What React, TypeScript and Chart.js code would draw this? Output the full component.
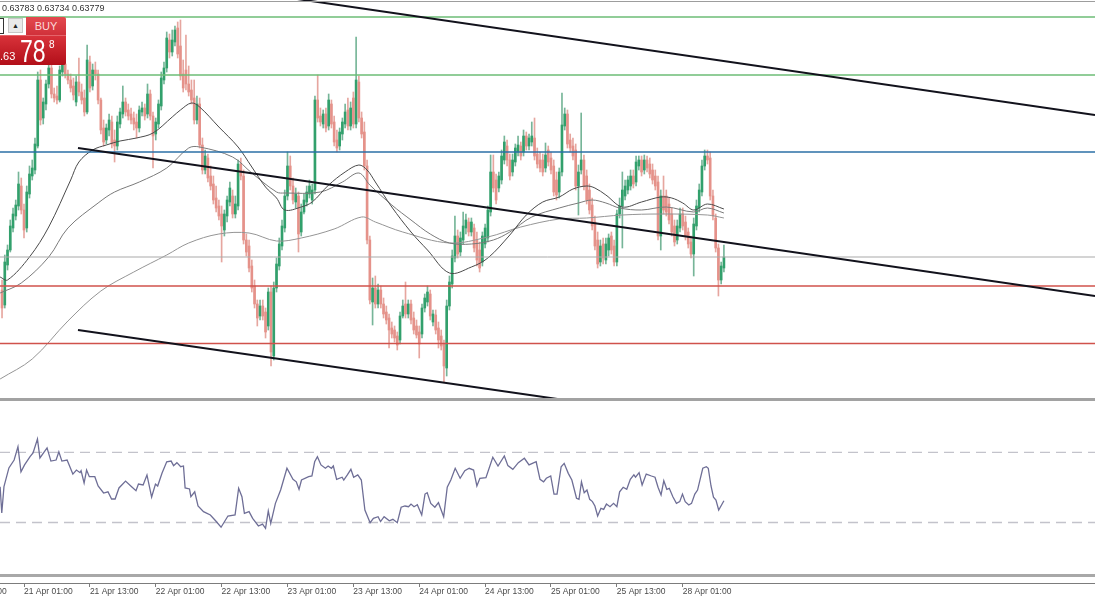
import React, { useEffect, useRef } from "react";
import { Chart, registerables } from "chart.js";
Chart.register(...registerables);

// ---------------- DATA (AUDUSD-like, M30 bars, bar index = position) ----------------
const opens = [
  0.63720, 0.63690, 0.63770, 0.63800, 0.63844, 0.63868, 0.63888, 0.63928, 0.63880, 0.63844,
  0.63912, 0.63948, 0.63960, 0.64008, 0.64140, 0.64064, 0.64092, 0.64132, 0.64164, 0.64112,
  0.64108, 0.64100, 0.64156, 0.64172, 0.64152, 0.64140, 0.64128, 0.64096, 0.64136, 0.64116,
  0.64104, 0.64076, 0.64176, 0.64128, 0.64160, 0.64152, 0.64100, 0.64044, 0.64020, 0.64040,
  0.64056, 0.64020, 0.64008, 0.64052, 0.64072, 0.64096, 0.64080, 0.64072, 0.64064, 0.64056,
  0.64044, 0.64076, 0.64084, 0.64072, 0.64112, 0.64068, 0.64032, 0.64052, 0.64088, 0.64140,
  0.64164, 0.64220, 0.64196, 0.64216, 0.64244, 0.64208, 0.64152, 0.64160, 0.64132, 0.64120,
  0.64104, 0.64060, 0.64092, 0.64010, 0.63960, 0.63984, 0.63948, 0.63932, 0.63904, 0.63888,
  0.63872, 0.63840, 0.63868, 0.63896, 0.63908, 0.63872, 0.63888, 0.63972, 0.63948, 0.63820,
  0.63808, 0.63768, 0.63728, 0.63692, 0.63668, 0.63688, 0.63676, 0.63648, 0.63716, 0.63588,
  0.63724, 0.63768, 0.63808, 0.63844, 0.63908, 0.63968, 0.63928, 0.63896, 0.63908, 0.63836,
  0.63876, 0.63896, 0.63912, 0.63900, 0.63920, 0.64100, 0.64068, 0.64052, 0.64072, 0.64048,
  0.64092, 0.64056, 0.64020, 0.64008, 0.64032, 0.64052, 0.64080, 0.64048, 0.64104, 0.64052,
  0.64136, 0.64064, 0.64036, 0.63968, 0.63820, 0.63696, 0.63724, 0.63692, 0.63720, 0.63692,
  0.63676, 0.63664, 0.63644, 0.63640, 0.63628, 0.63620, 0.63668, 0.63692, 0.63672, 0.63692,
  0.63664, 0.63648, 0.63636, 0.63632, 0.63684, 0.63696, 0.63712, 0.63656, 0.63670, 0.63644,
  0.63628, 0.63612, 0.63564, 0.63688, 0.63732, 0.63784, 0.63828, 0.63796, 0.63820, 0.63844,
  0.63856, 0.63836, 0.63844, 0.63820, 0.63800, 0.63776, 0.63812, 0.63824, 0.63876, 0.63956,
  0.63940, 0.63924, 0.63940, 0.63980, 0.64008, 0.63980, 0.63956, 0.63976, 0.63996, 0.64008,
  0.63996, 0.64028, 0.64008, 0.64016, 0.64024, 0.63992, 0.63980, 0.63980, 0.63964, 0.64000,
  0.63984, 0.63968, 0.63940, 0.63916, 0.63956, 0.64048, 0.64072, 0.64020, 0.64008, 0.64000,
  0.63928, 0.63960, 0.63980, 0.63948, 0.63920, 0.63890, 0.63856, 0.63820, 0.63776, 0.63812,
  0.63780, 0.63800, 0.63828, 0.63808, 0.63776, 0.63872, 0.63888, 0.63908, 0.63920, 0.63928,
  0.63948, 0.63936, 0.63968, 0.63980, 0.63960, 0.63980, 0.63972, 0.63960, 0.63948, 0.63936,
  0.63828, 0.63908, 0.63908, 0.63892, 0.63872, 0.63848, 0.63820, 0.63844, 0.63872, 0.63856,
  0.63836, 0.63816, 0.63792, 0.63848, 0.63884, 0.63916, 0.63968, 0.63988, 0.63984, 0.63908,
  0.63864, 0.63804, 0.63740, 0.63764,
];
const highs = [
  0.63740, 0.63790, 0.63810, 0.63860, 0.63884, 0.63900, 0.63956, 0.63944, 0.63892, 0.63928,
  0.63968, 0.63980, 0.64024, 0.64156, 0.64160, 0.64104, 0.64140, 0.64180, 0.64172, 0.64124,
  0.64128, 0.64168, 0.64190, 0.64216, 0.64160, 0.64152, 0.64144, 0.64148, 0.64184, 0.64132,
  0.64120, 0.64210, 0.64188, 0.64172, 0.64176, 0.64160, 0.64104, 0.64060, 0.64052, 0.64072,
  0.64068, 0.64040, 0.64068, 0.64084, 0.64128, 0.64104, 0.64092, 0.64084, 0.64076, 0.64072,
  0.64088, 0.64096, 0.64092, 0.64132, 0.64120, 0.64076, 0.64064, 0.64100, 0.64156, 0.64176,
  0.64236, 0.64232, 0.64240, 0.64248, 0.64256, 0.64260, 0.64180, 0.64230, 0.64168, 0.64140,
  0.64140, 0.64108, 0.64104, 0.64024, 0.64000, 0.63992, 0.63968, 0.63948, 0.63928, 0.63900,
  0.63888, 0.63880, 0.63908, 0.63936, 0.63920, 0.63908, 0.63980, 0.63984, 0.63960, 0.63832,
  0.63820, 0.63780, 0.63740, 0.63700, 0.63700, 0.63700, 0.63684, 0.63724, 0.63728, 0.63736,
  0.63784, 0.63824, 0.63860, 0.63920, 0.63996, 0.63988, 0.63944, 0.63924, 0.63916, 0.63892,
  0.63912, 0.63928, 0.63940, 0.63932, 0.64108, 0.64150, 0.64084, 0.64080, 0.64084, 0.64112,
  0.64100, 0.64068, 0.64040, 0.64044, 0.64064, 0.64092, 0.64104, 0.64096, 0.64116, 0.64226,
  0.64148, 0.64076, 0.64056, 0.63980, 0.63828, 0.63744, 0.63748, 0.63732, 0.63728, 0.63704,
  0.63688, 0.63672, 0.63656, 0.63648, 0.63636, 0.63676, 0.63700, 0.63736, 0.63700, 0.63700,
  0.63676, 0.63660, 0.63648, 0.63692, 0.63712, 0.63728, 0.63720, 0.63680, 0.63680, 0.63656,
  0.63640, 0.63620, 0.63700, 0.63748, 0.63800, 0.63868, 0.63840, 0.63836, 0.63876, 0.63872,
  0.63864, 0.63864, 0.63852, 0.63836, 0.63816, 0.63836, 0.63852, 0.63888, 0.63990, 0.63990,
  0.63952, 0.63956, 0.64000, 0.64028, 0.64020, 0.63992, 0.63992, 0.64012, 0.64028, 0.64016,
  0.64040, 0.64036, 0.64032, 0.64056, 0.64064, 0.64004, 0.63996, 0.63992, 0.64014, 0.64008,
  0.63996, 0.63980, 0.63956, 0.63964, 0.64114, 0.64084, 0.64080, 0.64032, 0.64024, 0.64012,
  0.63970, 0.64074, 0.63990, 0.63960, 0.63932, 0.63904, 0.63868, 0.63836, 0.63820, 0.63824,
  0.63824, 0.63832, 0.63836, 0.63820, 0.63880, 0.63904, 0.63956, 0.63940, 0.63948, 0.63960,
  0.63960, 0.63988, 0.63988, 0.63988, 0.63990, 0.63988, 0.63984, 0.63972, 0.63960, 0.63948,
  0.63920, 0.63948, 0.63920, 0.63904, 0.63884, 0.63860, 0.63860, 0.63884, 0.63884, 0.63868,
  0.63844, 0.63828, 0.63864, 0.63900, 0.63932, 0.63980, 0.64000, 0.64000, 0.63996, 0.63920,
  0.63872, 0.63812, 0.63776, 0.63810,
];
const lows = [
  0.63664, 0.63684, 0.63760, 0.63796, 0.63836, 0.63860, 0.63880, 0.63872, 0.63824, 0.63836,
  0.63904, 0.63940, 0.63952, 0.64004, 0.64050, 0.64052, 0.64080, 0.64124, 0.64104, 0.64096,
  0.64092, 0.64096, 0.64148, 0.64144, 0.64132, 0.64116, 0.64100, 0.64088, 0.64108, 0.64092,
  0.64068, 0.64072, 0.64116, 0.64120, 0.64140, 0.64092, 0.64032, 0.64008, 0.64012, 0.64028,
  0.64004, 0.63976, 0.64000, 0.64044, 0.64064, 0.64068, 0.64060, 0.64052, 0.64040, 0.64024,
  0.64036, 0.64068, 0.64060, 0.64064, 0.64060, 0.63964, 0.64020, 0.64044, 0.64080, 0.64132,
  0.64156, 0.64184, 0.64188, 0.64208, 0.64184, 0.64140, 0.64116, 0.64120, 0.64108, 0.64092,
  0.64052, 0.64052, 0.64004, 0.63952, 0.63952, 0.63936, 0.63920, 0.63892, 0.63876, 0.63860,
  0.63776, 0.63828, 0.63856, 0.63888, 0.63864, 0.63864, 0.63880, 0.63940, 0.63812, 0.63788,
  0.63756, 0.63716, 0.63684, 0.63648, 0.63660, 0.63660, 0.63624, 0.63640, 0.63568, 0.63580,
  0.63716, 0.63760, 0.63800, 0.63836, 0.63900, 0.63920, 0.63892, 0.63884, 0.63796, 0.63828,
  0.63872, 0.63888, 0.63904, 0.63892, 0.63912, 0.64056, 0.64048, 0.64044, 0.64036, 0.64040,
  0.64044, 0.64008, 0.63996, 0.64000, 0.64020, 0.64044, 0.64040, 0.64040, 0.64044, 0.64044,
  0.64056, 0.64024, 0.63960, 0.63812, 0.63692, 0.63650, 0.63684, 0.63684, 0.63684, 0.63664,
  0.63652, 0.63604, 0.63624, 0.63616, 0.63600, 0.63612, 0.63664, 0.63664, 0.63664, 0.63652,
  0.63632, 0.63624, 0.63584, 0.63624, 0.63676, 0.63688, 0.63660, 0.63648, 0.63632, 0.63604,
  0.63600, 0.63536, 0.63548, 0.63680, 0.63724, 0.63776, 0.63784, 0.63788, 0.63812, 0.63832,
  0.63828, 0.63828, 0.63796, 0.63768, 0.63756, 0.63768, 0.63804, 0.63816, 0.63868, 0.63916,
  0.63892, 0.63916, 0.63932, 0.63972, 0.63968, 0.63940, 0.63948, 0.63968, 0.63988, 0.63980,
  0.63988, 0.64000, 0.64000, 0.64008, 0.63980, 0.63964, 0.63956, 0.63948, 0.63956, 0.63968,
  0.63952, 0.63908, 0.63900, 0.63904, 0.63948, 0.64040, 0.64004, 0.63996, 0.63980, 0.63920,
  0.63870, 0.63952, 0.63920, 0.63892, 0.63872, 0.63840, 0.63800, 0.63764, 0.63768, 0.63772,
  0.63772, 0.63788, 0.63792, 0.63768, 0.63768, 0.63864, 0.63804, 0.63900, 0.63912, 0.63920,
  0.63924, 0.63928, 0.63960, 0.63948, 0.63952, 0.63956, 0.63944, 0.63932, 0.63920, 0.63820,
  0.63800, 0.63872, 0.63868, 0.63852, 0.63828, 0.63808, 0.63812, 0.63836, 0.63840, 0.63820,
  0.63804, 0.63784, 0.63748, 0.63840, 0.63876, 0.63908, 0.63960, 0.63972, 0.63900, 0.63860,
  0.63796, 0.63708, 0.63732, 0.63756,
];
const closes = [
  0.63684, 0.63776, 0.63800, 0.63848, 0.63872, 0.63890, 0.63932, 0.63880, 0.63840, 0.63916,
  0.63952, 0.63964, 0.64012, 0.64140, 0.64060, 0.64096, 0.64132, 0.64164, 0.64112, 0.64104,
  0.64100, 0.64160, 0.64172, 0.64152, 0.64140, 0.64124, 0.64110, 0.64136, 0.64116, 0.64100,
  0.64076, 0.64180, 0.64124, 0.64160, 0.64152, 0.64100, 0.64040, 0.64016, 0.64044, 0.64060,
  0.64012, 0.64008, 0.64056, 0.64076, 0.64096, 0.64076, 0.64068, 0.64060, 0.64052, 0.64044,
  0.64080, 0.64084, 0.64068, 0.64112, 0.64068, 0.64028, 0.64056, 0.64092, 0.64144, 0.64164,
  0.64224, 0.64196, 0.64220, 0.64240, 0.64192, 0.64148, 0.64124, 0.64132, 0.64116, 0.64100,
  0.64060, 0.64092, 0.64010, 0.63960, 0.63988, 0.63944, 0.63928, 0.63900, 0.63884, 0.63868,
  0.63848, 0.63872, 0.63900, 0.63924, 0.63872, 0.63892, 0.63972, 0.63948, 0.63820, 0.63796,
  0.63764, 0.63724, 0.63692, 0.63664, 0.63688, 0.63668, 0.63636, 0.63716, 0.63596, 0.63724,
  0.63772, 0.63812, 0.63848, 0.63908, 0.63968, 0.63928, 0.63900, 0.63912, 0.63832, 0.63876,
  0.63900, 0.63916, 0.63928, 0.63920, 0.64100, 0.64064, 0.64056, 0.64072, 0.64044, 0.64100,
  0.64052, 0.64016, 0.64004, 0.64036, 0.64056, 0.64076, 0.64048, 0.64084, 0.64052, 0.64140,
  0.64064, 0.64032, 0.63968, 0.63820, 0.63700, 0.63724, 0.63692, 0.63720, 0.63692, 0.63672,
  0.63660, 0.63640, 0.63632, 0.63624, 0.63610, 0.63668, 0.63688, 0.63672, 0.63692, 0.63660,
  0.63640, 0.63630, 0.63612, 0.63684, 0.63704, 0.63716, 0.63668, 0.63672, 0.63640, 0.63620,
  0.63608, 0.63568, 0.63688, 0.63736, 0.63788, 0.63828, 0.63792, 0.63824, 0.63848, 0.63860,
  0.63836, 0.63856, 0.63804, 0.63780, 0.63764, 0.63828, 0.63844, 0.63880, 0.63956, 0.63924,
  0.63900, 0.63948, 0.63988, 0.64016, 0.63980, 0.63948, 0.63980, 0.64004, 0.64010, 0.63988,
  0.64028, 0.64008, 0.64024, 0.64028, 0.63988, 0.63972, 0.63964, 0.63956, 0.63990, 0.63976,
  0.63960, 0.63916, 0.63910, 0.63956, 0.64050, 0.64072, 0.64012, 0.64004, 0.63988, 0.63928,
  0.63956, 0.63980, 0.63928, 0.63900, 0.63880, 0.63848, 0.63808, 0.63772, 0.63808, 0.63784,
  0.63812, 0.63824, 0.63800, 0.63776, 0.63872, 0.63888, 0.63920, 0.63928, 0.63940, 0.63948,
  0.63932, 0.63976, 0.63980, 0.63956, 0.63980, 0.63964, 0.63952, 0.63940, 0.63928, 0.63828,
  0.63908, 0.63880, 0.63876, 0.63860, 0.63836, 0.63816, 0.63848, 0.63872, 0.63848, 0.63828,
  0.63812, 0.63792, 0.63852, 0.63888, 0.63920, 0.63968, 0.63988, 0.63980, 0.63908, 0.63868,
  0.63804, 0.63740, 0.63768, 0.63786,
];

// moving averages (bar position, price)
const maFastX = [-0.7, 2, 10, 17, 25, 28, 33, 38, 43, 49, 55, 62, 65, 69, 72, 79, 86, 91, 96, 100, 103, 109, 113, 119, 125, 130, 133, 136, 142, 149, 155, 163, 171, 177, 185, 191, 197, 203, 208, 213, 216, 220, 226, 233, 240, 244, 248, 252, 257, 263];
const maFastY = [0.63746, 0.63740, 0.63786, 0.63846, 0.63940, 0.63976, 0.64000, 0.64010, 0.64018, 0.64024, 0.64034, 0.64066, 0.64080, 0.64094, 0.64086, 0.64046, 0.64006, 0.63966, 0.63926, 0.63904, 0.63880, 0.63886, 0.63896, 0.63930, 0.63956, 0.63970, 0.63960, 0.63936, 0.63886, 0.63836, 0.63800, 0.63754, 0.63766, 0.63784, 0.63830, 0.63870, 0.63896, 0.63906, 0.63922, 0.63928, 0.63924, 0.63910, 0.63886, 0.63896, 0.63906, 0.63904, 0.63894, 0.63880, 0.63892, 0.63882];
const maMidX = [-0.7, 7, 17, 24, 35, 41, 50, 60, 68, 72, 84, 91, 100, 103, 116, 124, 130, 134, 142, 149, 156, 163, 171, 179, 185, 193, 203, 210, 215, 220, 225, 233, 242, 252, 257, 263];
const maMidY = [0.63714, 0.63734, 0.63786, 0.63844, 0.63894, 0.63916, 0.63936, 0.63964, 0.64004, 0.64006, 0.63986, 0.63954, 0.63916, 0.63914, 0.63916, 0.63936, 0.63954, 0.63930, 0.63890, 0.63860, 0.63832, 0.63814, 0.63812, 0.63820, 0.63836, 0.63866, 0.63884, 0.63894, 0.63900, 0.63894, 0.63884, 0.63880, 0.63886, 0.63876, 0.63884, 0.63874];
const maSlowX = [-0.7, 11, 24, 36, 48, 60, 68, 79, 90, 100, 109, 121, 131, 136, 146, 163, 177, 189, 203, 213, 226, 240, 257, 263];
const maSlowY = [0.63542, 0.63582, 0.63658, 0.63718, 0.63756, 0.63790, 0.63814, 0.63832, 0.63834, 0.63818, 0.63824, 0.63842, 0.63866, 0.63856, 0.63836, 0.63814, 0.63826, 0.63846, 0.63862, 0.63864, 0.63870, 0.63872, 0.63870, 0.63864];

// RSI (bar position, value)
const rsiX = [
  -0.7, -0.1, 0.7, 2.5, 4.4, 5.8, 6.9, 8.2, 10.2, 11.3,
  12.9, 13.8, 16.4, 17.8, 19.7, 20.7, 21.8, 23.7, 25.8, 27.1,
  28.4, 28.8, 29.9, 30.8, 31.8, 33.8, 35.0, 37.0, 38.6, 39.9,
  41.2, 42.6, 45.0, 47.2, 48.8, 49.7, 51.4, 52.8, 54.5, 55.9,
  56.7, 58.3, 60.0, 61.6, 62.5, 63.7, 65.1, 66.1, 66.7, 68.3,
  68.8, 70.2, 71.4, 73.4, 75.9, 77.8, 79.8, 82.3, 84.9, 86.2,
  87.4, 88.3, 90.0, 91.3, 93.4, 94.9, 96.0, 97.0, 97.9, 99.6,
  101.5, 103.8, 106.0, 107.2, 108.2, 109.1, 111.7, 112.9, 113.9, 114.9,
  116.2, 117.8, 118.8, 120.0, 120.7, 121.9, 123.9, 124.5, 125.8, 127.1,
  128.1, 129.6, 130.9, 132.2, 134.1, 135.3, 137.0, 137.9, 139.2, 141.1,
  142.4, 144.0, 145.4, 146.8, 148.1, 149.0, 150.1, 151.3, 152.9, 154.1,
  154.9, 156.2, 157.7, 159.0, 160.9, 162.2, 163.5, 165.1, 166.9, 168.6,
  170.2, 171.8, 173.0, 174.1, 176.3, 178.8, 180.7, 183.0, 184.3, 186.1,
  188.1, 190.3, 192.0, 194.6, 196.0, 197.3, 198.3, 199.9, 201.1, 202.2,
  203.7, 204.8, 206.3, 207.6, 209.3, 210.2, 211.1, 212.1, 213.1, 214.1,
  215.1, 216.0, 217.0, 218.2, 219.2, 220.2, 221.5, 222.8, 224.0, 225.0,
  226.3, 227.6, 228.9, 230.2, 230.8, 232.1, 233.2, 234.7, 236.6, 237.9,
  239.0, 240.1, 241.1, 242.2, 243.1, 244.4, 245.7, 246.9, 247.9, 248.9,
  250.2, 251.2, 252.4, 253.4, 255.3, 256.6, 257.3, 258.3, 259.2, 260.1,
  261.1, 263.0,
];
const rsiY = [
  50.4, 35.4, 50.4, 61.1, 65.6, 73.2, 58.9, 62.8, 67.5, 69.6,
  77.6, 66.8, 72.5, 65.0, 65.6, 70.3, 65.0, 65.6, 57.6, 59.9,
  58.4, 59.5, 52.5, 59.9, 56.1, 56.1, 50.8, 46.8, 47.5, 43.4,
  43.4, 49.7, 53.6, 50.4, 48.1, 51.9, 51.4, 57.1, 44.5, 51.9,
  50.8, 58.2, 64.6, 65.0, 62.4, 64.1, 61.8, 62.2, 49.7, 49.1,
  44.7, 47.5, 39.4, 36.2, 34.3, 31.0, 27.3, 33.7, 34.3, 49.5,
  44.7, 35.2, 36.2, 32.4, 28.0, 29.1, 26.7, 36.6, 29.5, 40.9,
  48.5, 60.9, 54.6, 53.2, 48.9, 54.2, 56.1, 56.5, 64.6, 67.5,
  62.8, 60.9, 62.2, 60.9, 62.2, 54.6, 55.8, 54.2, 57.1, 60.3,
  55.8, 57.1, 54.2, 37.1, 29.9, 32.4, 33.3, 30.5, 33.3, 31.0,
  31.8, 29.9, 38.7, 39.4, 39.0, 40.5, 39.0, 40.1, 34.3, 46.2,
  47.0, 40.9, 38.7, 41.3, 33.3, 50.1, 54.2, 60.9, 55.2, 59.5,
  60.9, 59.9, 50.8, 55.2, 55.5, 67.2, 62.2, 67.9, 62.4, 60.3,
  64.1, 66.6, 62.8, 64.6, 54.6, 53.2, 55.2, 56.5, 46.2, 46.2,
  61.8, 63.7, 58.0, 54.2, 43.8, 43.2, 53.2, 47.0, 48.5, 43.2,
  41.9, 39.4, 33.7, 38.1, 37.5, 40.5, 39.0, 40.9, 39.0, 47.5,
  50.1, 48.9, 54.6, 57.1, 55.8, 58.4, 51.4, 57.6, 56.5, 55.8,
  50.1, 45.7, 53.8, 48.9, 49.5, 44.7, 40.9, 41.9, 46.2, 41.9,
  40.0, 40.9, 46.2, 48.5, 60.9, 61.8, 60.9, 50.8, 44.4, 42.8,
  37.1, 42.4,
];
const rsiLevels = [70, 30];

// horizontal levels and trend lines
const levelPrices = [0.64266, 0.64150, 0.63996, 0.63786, 0.63728, 0.63613];
const trendStartX = [105, 27.67, 27.67];
const trendStartY = [0.64304, 0.64004, 0.63640];
const trendEndX = [398.2, 398.2, 254.3];
const trendEndY = [0.64070, 0.63708, 0.63461];

// time axis
const timeTickIdx = [-16, 8, 32, 56, 80, 104, 128, 152, 176, 200, 224, 248];
const timeTickLabels = [
  "18 Apr 13:00", "21 Apr 01:00", "21 Apr 13:00", "22 Apr 01:00", "22 Apr 13:00", "23 Apr 01:00",
  "23 Apr 13:00", "24 Apr 01:00", "24 Apr 13:00", "25 Apr 01:00", "25 Apr 13:00", "28 Apr 01:00",
];
const ohlcText = "0.63783 0.63734 0.63779";

// ---------------- view config ----------------
const X_MIN = -0.745;
const X_MAX = 398.2;
const P_MIN = 0.63504;
const P_MAX = 0.643;
const RSI_MIN = -4.47;
const RSI_MAX = 99.23;
const levelColors = ["#6cbc76", "#6cbc76", "#2b6fa6", "#a9a9a9", "#d0524b", "#d0524b"];
const levelWidths = [1.5, 1.5, 1.5, 1, 1.5, 1.5];
const FONT = '"Liberation Sans", Arial, sans-serif';

export default function App() {
  const mainRef = useRef<HTMLCanvasElement>(null);
  const rsiRef = useRef<HTMLCanvasElement>(null);

  useEffect(() => {
    const idx = closes.map((_, i) => i);
    const up = idx.map((i) => closes[i] >= opens[i]);
    const bodyColors = up.map((u) => (u ? "#32a06c" : "#e5928a"));
    const wickColors = up.map((u) => (u ? "rgba(60,150,108,0.7)" : "rgba(220,128,118,0.7)"));

    const lineBase = { type: "line" as const, pointRadius: 0, pointHoverRadius: 0, fill: false };

    const trendSets = trendStartX.map((x0, k) => ({
      ...lineBase,
      data: [
        { x: x0, y: trendStartY[k] },
        { x: trendEndX[k], y: trendEndY[k] },
      ],
      borderColor: "#12121c",
      borderWidth: 2,
      tension: 0,
      order: 0,
    }));
    const levelSets = levelPrices.map((p, k) => ({
      ...lineBase,
      data: [
        { x: X_MIN, y: p },
        { x: X_MAX, y: p },
      ],
      borderColor: levelColors[k],
      borderWidth: levelWidths[k],
      tension: 0,
      order: 1,
    }));
    const maSets = [
      { xs: maFastX, ys: maFastY, color: "#4a4a4a" },
      { xs: maMidX, ys: maMidY, color: "#7a7a7a" },
      { xs: maSlowX, ys: maSlowY, color: "#959595" },
    ].map((m) => ({
      ...lineBase,
      data: m.xs.map((x, k) => ({ x, y: m.ys[k] })),
      borderColor: m.color,
      borderWidth: 1,
      tension: 0.35,
      order: 2,
    }));

    const main = new Chart(mainRef.current as HTMLCanvasElement, {
      type: "bar",
      data: {
        datasets: [
          ...trendSets,
          ...levelSets,
          ...maSets,
          {
            type: "bar",
            data: idx.map((i) => ({ x: i, y: [opens[i], closes[i]] })),
            backgroundColor: bodyColors,
            barThickness: 2,
            grouped: false,
            minBarLength: 1,
            borderWidth: 0,
            order: 3,
          },
          {
            type: "bar",
            data: idx.map((i) => ({ x: i, y: [lows[i], highs[i]] })),
            backgroundColor: wickColors,
            barThickness: 1,
            grouped: false,
            borderWidth: 0,
            order: 4,
          },
        ] as any,
      },
      options: {
        responsive: false,
        animation: false,
        events: [],
        layout: { padding: 0, autoPadding: false },
        plugins: { legend: { display: false }, tooltip: { enabled: false } },
        scales: {
          x: { type: "linear", min: X_MIN, max: X_MAX, offset: false, bounds: "data", display: false },
          y: { type: "linear", min: P_MIN, max: P_MAX, beginAtZero: false, bounds: "data", display: false },
        },
      } as any,
    });

    const rsi = new Chart(rsiRef.current as HTMLCanvasElement, {
      type: "line",
      data: {
        datasets: [
          {
            ...lineBase,
            data: rsiX.map((x, k) => ({ x, y: rsiY[k] })),
            borderColor: "#6e6e96",
            borderWidth: 1.3,
            tension: 0,
            order: 0,
          },
          ...rsiLevels.map((v) => ({
            ...lineBase,
            data: [
              { x: X_MIN, y: v },
              { x: X_MAX, y: v },
            ],
            borderColor: "#c3c3cb",
            borderWidth: 1.3,
            borderDash: [10, 6],
            tension: 0,
            order: 1,
          })),
        ] as any,
      },
      options: {
        responsive: false,
        animation: false,
        events: [],
        layout: { padding: 0, autoPadding: false },
        plugins: { legend: { display: false }, tooltip: { enabled: false } },
        scales: {
          x: {
            type: "linear",
            min: X_MIN,
            max: X_MAX,
            offset: false,
            bounds: "data",
            afterBuildTicks: (s: any) => {
              s.ticks = timeTickIdx.map((v) => ({ value: v }));
            },
            afterFit: (s: any) => {
              s.height = 17;
              s.paddingLeft = 0;
              s.paddingRight = 0;
            },
            ticks: {
              autoSkip: false,
              maxRotation: 0,
              minRotation: 0,
              align: "start",
              padding: 0,
              color: "#4a4a4a",
              font: { family: FONT, size: 8.5 },
              callback: (_v: any, i: number) => timeTickLabels[i],
            },
            grid: { drawOnChartArea: false, drawTicks: true, tickLength: 4, color: "#7c7c7c", lineWidth: 1 },
            border: { display: true, color: "#7c7c7c", width: 1 },
          },
          y: { type: "linear", min: RSI_MIN, max: RSI_MAX, display: false },
        },
      } as any,
    });

    return () => {
      main.destroy();
      rsi.destroy();
    };
  }, []);

  const abs = (s: React.CSSProperties): React.CSSProperties => ({ position: "absolute", ...s });

  return (
    <div
      style={{
        position: "fixed",
        left: 0,
        top: 0,
        width: 1095,
        height: 600,
        background: "#ffffff",
        overflow: "hidden",
        fontFamily: FONT,
      }}
    >
      <canvas ref={mainRef} width={1095} height={398} style={abs({ left: 0, top: 0, display: "block" })} />
      <canvas ref={rsiRef} width={1095} height={199} style={abs({ left: 0, top: 401, display: "block" })} />

      {/* frame lines */}
      <div style={abs({ left: 0, top: 1, width: 1095, height: 1, background: "#9d9d9d" })} />
      <div style={abs({ left: 0, top: 398, width: 1095, height: 3, background: "#a2a2a2" })} />
      <div style={abs({ left: 0, top: 574, width: 1095, height: 3, background: "#a8a8a8" })} />

      {/* OHLC header */}
      <div style={abs({ left: 2, top: 2, fontSize: 9, lineHeight: "12px", color: "#333", whiteSpace: "nowrap" })}>
        {ohlcText}
      </div>

      {/* one-click trading panel (partial) */}
      <div style={abs({ left: -6, top: 18, width: 8, height: 14, background: "#fff", border: "1px solid #333" })} />
      <div
        style={abs({
          left: 8,
          top: 18,
          width: 15,
          height: 15,
          background: "#e9e9e9",
          border: "1px solid #c6c6c6",
          boxSizing: "border-box",
          fontSize: 7,
          lineHeight: "13px",
          textAlign: "center",
          color: "#222",
        })}
      >
        ▲
      </div>
      <div
        style={abs({
          left: 26,
          top: 17,
          width: 40,
          height: 18,
          background: "linear-gradient(#e4494f, #d0313a)",
          color: "#fbd9d9",
          fontSize: 11,
          lineHeight: "18px",
          textAlign: "center",
          borderTopRightRadius: 2,
        })}
      >
        BUY
      </div>
      <div
        style={abs({
          left: 0,
          top: 35,
          width: 66,
          height: 30,
          background: "linear-gradient(#d8323a, #b20f19)",
          borderTop: "1px solid #e5646a",
          boxSizing: "border-box",
          borderBottomRightRadius: 2,
          color: "#fff",
        })}
      >
        <span style={abs({ left: 0, top: 14, fontSize: 11, lineHeight: "12px" })}>.63</span>
        <span
          style={abs({
            left: 20,
            top: -1,
            fontSize: 32,
            lineHeight: "32px",
            transform: "scaleX(0.72)",
            transformOrigin: "left top",
          })}
        >
          78
        </span>
        <span style={abs({ left: 49, top: 4, fontSize: 10, lineHeight: "10px" })}>8</span>
      </div>
    </div>
  );
}
